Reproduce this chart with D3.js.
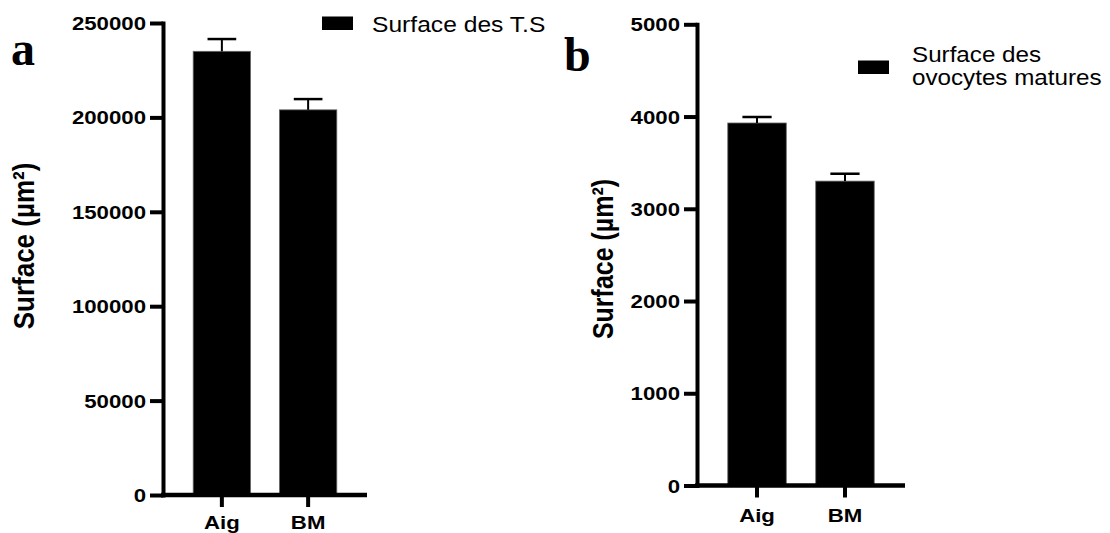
<!DOCTYPE html>
<html>
<head>
<meta charset="utf-8">
<script src="https://cdn.jsdelivr.net/npm/d3@7"></script>
<style>
  html, body { margin: 0; padding: 0; background: #fff; }
  svg { display: block; }
  text { fill: #000; }
</style>
</head>
<body>
<svg id="chart" width="1110" height="533"></svg>
<script>
// ---------- data ----------
const categories = ["Aig", "BM"];

const tsMeans = [235000, 204000];
const tsSEM = [6500, 5700];
const tsTicks = [0, 50000, 100000, 150000, 200000, 250000];
const tsLegend = ["Surface des T.S"];

const ovoMeans = [3930, 3300];
const ovoSEM = [65, 80];
const ovoTicks = [0, 1000, 2000, 3000, 4000, 5000];
const ovoLegend = ["Surface des", "ovocytes matures"];

const yTitle = "Surface (µm²)";
const panelLetters = ["a", "b"];

// ---------- layout ----------
const svg = d3.select("#chart");
const SX = 1.17; // horizontal stretch of text in the reference
const SANS = "'Liberation Sans', Arial, sans-serif";
const SERIF = "'Liberation Serif', 'Times New Roman', serif";

function stretchedText(g, x, y, str, o) {
  return g.append("text")
    .attr("transform", `translate(${x},${y}) scale(${o.sx || SX},1)` + (o.rot ? ` rotate(${o.rot})` : ""))
    .attr("text-anchor", o.anchor || "start")
    .style("font-size", o.size + "px")
    .style("font-weight", o.weight || "normal")
    .style("font-family", o.family || SANS)
    .text(str);
}

function panel(cfg) {
  const g = svg.append("g");
  const x = d3.scaleBand().domain(categories).range([cfg.x0, cfg.x1])
    .paddingInner(0.335).paddingOuter(0.35);
  const y = d3.scaleLinear().domain([0, d3.max(cfg.ticks)]).range([cfg.yBottom, cfg.yTop]);

  // bars
  g.selectAll("rect.bar").data(cfg.means).join("rect")
    .attr("class", "bar")
    .attr("x", (d, i) => x(categories[i]))
    .attr("width", x.bandwidth())
    .attr("y", d => y(d))
    .attr("height", d => cfg.yBottom - y(d))
    .attr("fill", "#000")
    .attr("stroke", "#666").attr("stroke-width", 0.8);

  // error bars (upper only)
  const capW = x.bandwidth() * 0.5;
  cfg.means.forEach((m, i) => {
    const cx = x(categories[i]) + x.bandwidth() / 2;
    g.append("line").attr("x1", cx).attr("x2", cx)
      .attr("y1", y(m)).attr("y2", y(m + cfg.sem[i]))
      .attr("stroke", "#000").attr("stroke-width", 2);
    g.append("line").attr("x1", cx - capW / 2).attr("x2", cx + capW / 2)
      .attr("y1", y(m + cfg.sem[i])).attr("y2", y(m + cfg.sem[i]))
      .attr("stroke", "#000").attr("stroke-width", 2.5);
  });

  // y axis
  const ya = g.append("g").attr("transform", `translate(${cfg.x0},0)`)
    .call(d3.axisLeft(y).tickValues(cfg.ticks).tickSize(13).tickSizeOuter(0).tickFormat(""));
  ya.selectAll("path,line").attr("stroke", "#000").attr("stroke-width", 4);
  ya.select("path.domain").attr("stroke-linecap", "square");
  ya.selectAll(".tick line").attr("stroke-linecap", "butt");

  // x axis line
  g.append("line").attr("x1", cfg.x0 - 2).attr("x2", cfg.x1)
    .attr("y1", cfg.yBottom).attr("y2", cfg.yBottom)
    .attr("stroke", "#000").attr("stroke-width", 4.5);
  // x ticks
  const xa = g.append("g").attr("transform", `translate(0,${cfg.yBottom})`)
    .call(d3.axisBottom(x).tickSize(12).tickSizeOuter(0).tickFormat(""));
  xa.select("path.domain").remove();
  xa.selectAll(".tick line").attr("stroke", "#000").attr("stroke-width", 4);

  // y tick labels
  cfg.ticks.forEach(t => {
    stretchedText(g, cfg.x0 - 17, y(t) + 7, String(t), { size: 19, weight: "bold", anchor: "end" });
  });
  // x labels
  categories.forEach(c => {
    stretchedText(g, x(c) + x.bandwidth() / 2, cfg.xLabelY, c, { size: 19, weight: "bold", anchor: "middle" });
  });

  // y title
  stretchedText(g, cfg.titleX, cfg.titleY, yTitle,
    { size: cfg.titleSize, weight: "bold", anchor: "middle", rot: -90 });

  // panel letter
  stretchedText(g, cfg.letterX, cfg.letterY, cfg.letter,
    { size: 48, weight: "bold", family: SERIF, sx: 1 });

  // legend
  g.append("rect").attr("x", cfg.legX).attr("y", cfg.legY).attr("width", 31).attr("height", 13.5).attr("fill", "#000");
  cfg.legend.forEach((l, i) => {
    stretchedText(g, cfg.legTextX, cfg.legTextY + i * 23, l, { size: 22, sx: cfg.legSX });
  });
}

panel({
  means: tsMeans, sem: tsSEM, ticks: tsTicks, legend: tsLegend, letter: panelLetters[0],
  x0: 163, x1: 367, yTop: 23, yBottom: 495, xLabelY: 529,
  titleX: 34, titleY: 246, titleSize: 26,
  letterX: 11, letterY: 65,
  legX: 322, legY: 16.5, legTextX: 372, legTextY: 32, legSX: 1.12
});

panel({
  means: ovoMeans, sem: ovoSEM, ticks: ovoTicks, legend: ovoLegend, letter: panelLetters[1],
  x0: 697, x1: 905, yTop: 24.3, yBottom: 485.5, xLabelY: 521.5,
  titleX: 613, titleY: 259, titleSize: 25,
  letterX: 564, letterY: 71,
  legX: 858, legY: 60.5, legTextX: 912, legTextY: 62, legSX: 1.1
});
</script>
</body>
</html>
